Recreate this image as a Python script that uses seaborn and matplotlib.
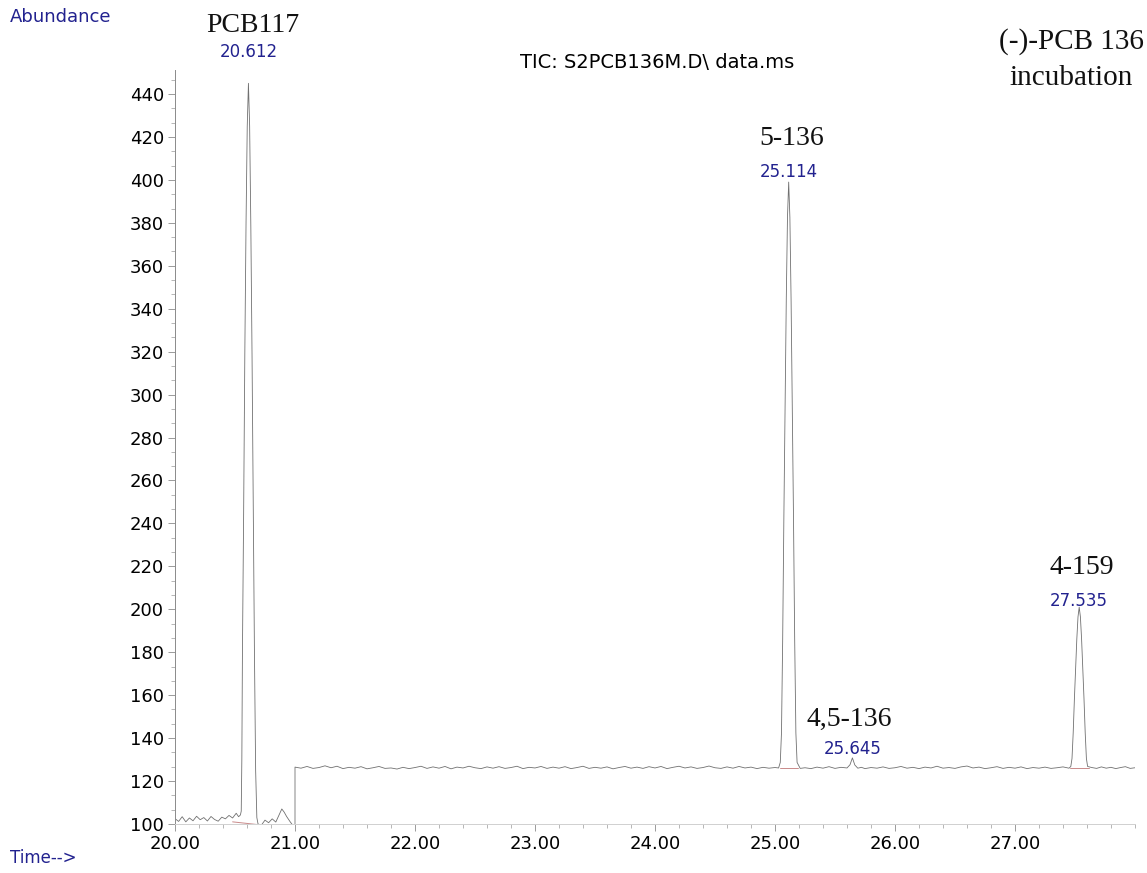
import matplotlib
matplotlib.use("Agg")
import matplotlib.pyplot as plt
from matplotlib.ticker import MultipleLocator, FormatStrFormatter
import seaborn as sns
import pandas as pd

sns.set_theme(style="ticks")
plt.rcParams["font.family"] = ["DejaVu Sans"]

# --- trace (time in min, abundance) ---
time_pre = [20.00, 20.03, 20.06, 20.09, 20.12, 20.15, 20.18, 20.21, 20.24, 20.27,
            20.30, 20.33, 20.36, 20.39, 20.42, 20.45, 20.48, 20.51, 20.53, 20.545]
abund_pre = [102.5, 101.2, 103.4, 101.0, 102.8, 101.5, 103.6, 102.0, 103.0, 101.4,
             103.5, 102.1, 101.3, 103.2, 102.4, 104.0, 102.8, 105.0, 103.4, 104.2]

time_p1 = [20.552, 20.557, 20.562, 20.572, 20.582, 20.592, 20.602, 20.612,
           20.622, 20.632, 20.642, 20.652, 20.662, 20.672, 20.682, 20.692]
abund_p1 = [106, 130, 180, 245, 320, 380, 425, 445,
            425, 378, 318, 250, 180, 125, 103, 100]

time_mid = [20.72, 20.75, 20.78, 20.81, 20.84, 20.87, 20.89, 20.91, 20.93, 20.96,
            20.99, 21.00]
abund_mid = [99.5, 101.8, 100.6, 102.4, 100.9, 104.5, 107.0, 105.5, 103.5, 101.0,
             98.8, 99.5]

time_b1 = [21.00, 21.05, 21.10, 21.15, 21.20, 21.25, 21.30, 21.35, 21.40, 21.45,
           21.50, 21.55, 21.60, 21.65, 21.70, 21.75, 21.80, 21.85, 21.90, 21.95,
           22.00, 22.05, 22.10, 22.15, 22.20, 22.25, 22.30, 22.35, 22.40, 22.45,
           22.50, 22.55, 22.60, 22.65, 22.70, 22.75, 22.80, 22.85, 22.90, 22.95,
           23.00, 23.05, 23.10, 23.15, 23.20, 23.25, 23.30, 23.35, 23.40, 23.45,
           23.50, 23.55, 23.60, 23.65, 23.70, 23.75, 23.80, 23.85, 23.90, 23.95,
           24.00, 24.05, 24.10, 24.15, 24.20, 24.25, 24.30, 24.35, 24.40, 24.45,
           24.50, 24.55, 24.60, 24.65, 24.70, 24.75, 24.80, 24.85, 24.90, 24.95,
           25.00, 25.03]
abund_b1 = [126.5, 126.0, 126.8, 125.9, 126.3, 127.1, 126.2, 126.9, 125.8, 126.4,
            126.0, 126.7, 125.7, 126.2, 126.8, 125.9, 126.1, 125.6, 126.4, 125.8,
            126.3, 126.9, 125.9, 126.6, 126.0, 126.8, 125.7, 126.5, 126.1, 126.9,
            126.2, 125.8, 126.6, 126.0, 126.7, 125.9, 126.3, 126.9, 125.8, 126.4,
            126.1, 126.8, 125.9, 126.5, 126.0, 126.7, 125.8, 126.3, 126.9, 125.9,
            126.4, 126.0, 126.6, 125.7, 126.3, 126.8, 126.0, 126.5, 125.9, 126.7,
            126.1, 126.8, 125.8, 126.4, 126.9, 126.1, 126.6, 125.9, 126.3, 127.0,
            126.2, 125.9, 126.6, 126.0, 126.8, 126.1, 126.5, 125.8, 126.4, 126.0,
            126.3, 126.1]

time_p2 = [25.044, 25.054, 25.064, 25.074, 25.084, 25.094, 25.104, 25.114,
           25.124, 25.134, 25.144, 25.154, 25.164, 25.174, 25.184]
abund_p2 = [128.7, 142.4, 186.0, 243.4, 295.3, 344.4, 382.6, 399.0,
            382.6, 344.4, 295.3, 243.4, 186.0, 142.4, 128.7]

time_b2 = [25.21, 25.25, 25.30, 25.35, 25.40, 25.45, 25.50, 25.55, 25.60, 25.625,
           25.645, 25.665, 25.69, 25.72, 25.75, 25.80, 25.85, 25.90, 25.95, 26.00,
           26.05, 26.10, 26.15, 26.20, 26.25, 26.30, 26.35, 26.40, 26.45, 26.50,
           26.55, 26.60, 26.65, 26.70, 26.75, 26.80, 26.85, 26.90, 26.95, 27.00,
           27.05, 27.10, 27.15, 27.20, 27.25, 27.30, 27.35, 27.40, 27.45]
abund_b2 = [125.9, 126.2, 125.8, 126.5, 126.0, 126.7, 125.9, 126.4, 126.1, 127.6,
            130.8, 127.5, 126.0, 126.4, 125.8, 126.3, 126.0, 126.6, 125.9, 126.2,
            126.8, 126.0, 126.4, 125.8, 126.5, 126.1, 126.9, 126.0, 126.3, 125.9,
            126.6, 127.0, 126.1, 126.5, 125.8, 126.2, 126.7, 125.9, 126.4, 126.0,
            126.6, 125.8, 126.3, 126.0, 126.5, 125.9, 126.2, 126.6, 126.0]

time_p3 = [27.465, 27.475, 27.485, 27.495, 27.505, 27.515, 27.525, 27.535,
           27.545, 27.555, 27.565, 27.575, 27.585, 27.595, 27.605]
abund_p3 = [126.8, 130.5, 142.5, 158.3, 172.5, 186.0, 196.5, 201.0,
            196.5, 186.0, 172.5, 158.3, 142.5, 130.5, 126.8]

time_b3 = [27.64, 27.68, 27.72, 27.76, 27.80, 27.84, 27.88, 27.92, 27.96, 28.00]
abund_b3 = [126.3, 125.9, 126.6, 126.0, 126.4, 125.8, 126.3, 126.7, 125.9, 126.2]

# integration baselines
base_t = [[20.48, 20.71], [25.04, 25.19], [27.46, 27.62]]
base_v = [[101.0, 99.6], [126.0, 126.0], [126.0, 126.0]]

# peak annotations
peak_rt = [20.612, 25.114, 25.645, 27.535]
peak_label_y = [459.6, 403.7, 134.9, 203.9]
compound = ["PCB117", "5-136", "4,5-136", "4-159"]
compound_x = [20.65, 25.142, 25.617, 27.558]
compound_y = [472.0, 419.5, 148.9, 219.7]

trace = pd.DataFrame({
    "time": time_pre + time_p1 + time_mid + time_b1 + time_p2 + time_b2 + time_p3 + time_b3,
    "abundance": abund_pre + abund_p1 + abund_mid + abund_b1 + abund_p2 + abund_b2 + abund_p3 + abund_b3,
})

W, H = 1147, 873
fig = plt.figure(figsize=(W / 100, H / 100), dpi=100)
ax = fig.add_axes([175 / W, 1 - 824 / H, 960 / W, 754 / H])

sns.lineplot(data=trace, x="time", y="abundance", ax=ax, estimator=None,
             sort=False, color="#707070", linewidth=0.6)
for bt, bv in zip(base_t, base_v):
    ax.plot(bt, bv, color="#c98a8a", linewidth=0.7)

ax.set_xlim(20, 28)
ax.set_ylim(100, 451.2)
ax.xaxis.set_major_locator(MultipleLocator(1))
ax.xaxis.set_minor_locator(MultipleLocator(0.2))
ax.yaxis.set_major_locator(MultipleLocator(20))
ax.yaxis.set_minor_locator(MultipleLocator(20 / 3))
ax.xaxis.set_major_formatter(FormatStrFormatter("%.2f"))
ax.set_xlabel("")
ax.set_ylabel("")
ax.set_xticks([20, 21, 22, 23, 24, 25, 26, 27])
ax.tick_params(which="major", length=5, width=0.6, color="#8a8a8a",
               labelsize=13, pad=3, labelcolor="black")
ax.tick_params(which="minor", length=3, width=0.5, color="#9a9a9a")
sns.despine(ax=ax)
ax.spines["left"].set_color("#8a8a8a")
ax.spines["left"].set_linewidth(0.7)
ax.spines["bottom"].set_color("#d0d0d0")
ax.spines["bottom"].set_linewidth(0.7)

blue = "#22228f"
for rt, ly in zip(peak_rt, peak_label_y):
    ax.text(rt, ly, f"{rt:.3f}", color=blue, fontsize=12, ha="center",
            va="center", clip_on=False)
for name, cx, cy in zip(compound, compound_x, compound_y):
    ax.text(cx, cy, name, family="Liberation Serif", fontsize=20,
            ha="center", va="center", color="#111111", clip_on=False)

fig.text(10 / W, 1 - 17 / H, "Abundance", color=blue, fontsize=13,
         ha="left", va="center")
fig.text(10 / W, 1 - 858 / H, "Time-->", color=blue, fontsize=12,
         ha="left", va="center")
fig.text(657 / W, 1 - 63 / H, "TIC: S2PCB136M.D\\ data.ms", color="black",
         fontsize=14, ha="center", va="center")
fig.text(1071 / W, 1 - 42 / H, "(-)-PCB 136", family="Liberation Serif",
         fontsize=21, ha="center", va="center", color="#111111")
fig.text(1071 / W, 1 - 78 / H, "incubation", family="Liberation Serif",
         fontsize=21, ha="center", va="center", color="#111111")

fig.savefig("out.png", dpi=100)
